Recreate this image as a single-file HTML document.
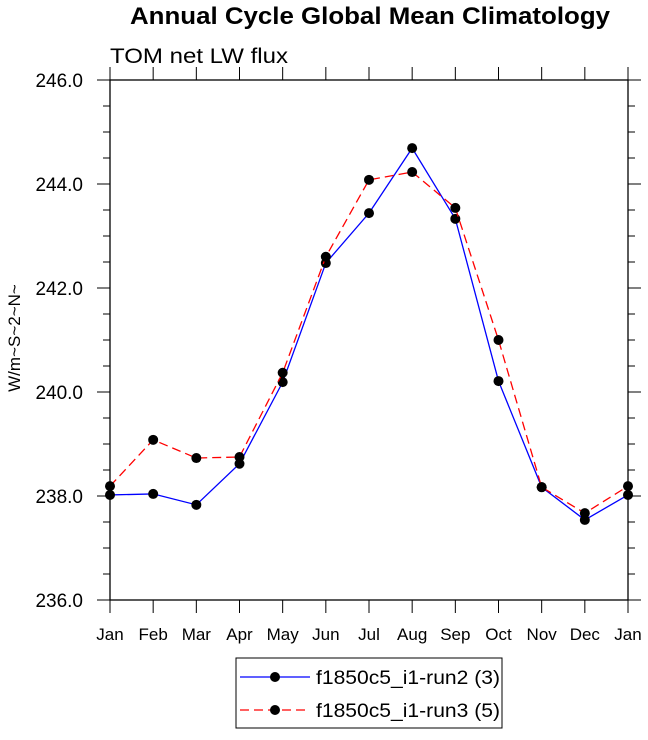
<!DOCTYPE html>
<html><head><meta charset="utf-8"><style>
body{margin:0;background:#fff;}
svg text{font-family:"Liberation Sans",Helvetica,sans-serif;}
</style></head><body>
<svg id="chart" width="648" height="735" xmlns="http://www.w3.org/2000/svg">
<text x="370" y="24" text-anchor="middle" font-size="24" font-weight="bold" textLength="480" lengthAdjust="spacingAndGlyphs">Annual Cycle Global Mean Climatology</text>
<text x="110" y="63" font-size="21" textLength="178" lengthAdjust="spacingAndGlyphs">TOM net LW flux</text>
<text transform="translate(20,338) rotate(-90)" text-anchor="middle" font-size="17">W/m~S~2~N~</text>
<g id="axes"></g>
<g id="series"></g>
<g>
<rect x="236" y="658" width="266" height="70" fill="#fff" stroke="#000"/>
<g>
<line x1="240" y1="677" x2="310" y2="677" stroke="#0000ff" stroke-width="1.3"/>
<circle cx="275" cy="677" r="5" fill="#000"/>
<text x="316" y="684" font-size="19" textLength="184" lengthAdjust="spacingAndGlyphs">f1850c5_i1-run2 (3)</text></g>
<g>
<line x1="240" y1="710" x2="310" y2="710" stroke="#ff0000" stroke-width="1.3" stroke-dasharray="9,5"/>
<circle cx="275" cy="710" r="5" fill="#000"/>
<text x="316" y="717" font-size="19" textLength="184" lengthAdjust="spacingAndGlyphs">f1850c5_i1-run3 (5)</text></g>
</g>
</svg>
<script>
const months = ["Jan","Feb","Mar","Apr","May","Jun","Jul","Aug","Sep","Oct","Nov","Dec","Jan"];
const run2 = [238.02,238.04,237.83,238.62,240.19,242.48,243.44,244.69,243.33,240.21,238.17,237.54,238.02];
const run3 = [238.19,239.08,238.73,238.75,240.37,242.6,244.08,244.23,243.54,241.0,238.17,237.67,238.19];
const yTicks = [236,238,240,242,244,246];
const NS="http://www.w3.org/2000/svg";
const L=110,R=628,T=80,B=600,ymin=236,ymax=246;
const xs=i=>L+(R-L)*i/(months.length-1);
const ys=v=>B-(v-ymin)/(ymax-ymin)*(B-T);
function mk(tag,attrs,parent){const e=document.createElementNS(NS,tag);for(const k in attrs)e.setAttribute(k,attrs[k]);parent.appendChild(e);return e;}
const ax=document.getElementById('axes');
const frame=mk('rect',{x:L,y:T,width:R-L,height:B-T,fill:'none',stroke:'#000','stroke-width':1.3},ax);


for(let v=ymin;v<=ymax+1e-9;v+=0.5){
  const y=ys(v);const major=Math.abs(v-Math.round(v/2)*2)<1e-9;const len=major?13:7;
  const t1=mk('line',{x1:L-len,x2:L,y1:y,y2:y,stroke:'#000'},ax);
  
  
  const t2=mk('line',{x1:R,x2:R+len,y1:y,y2:y,stroke:'#000'},ax);
  
  
}
yTicks.forEach(v=>{
  const t=mk('text',{x:L-27,y:ys(v)+7,'text-anchor':'end','font-size':19},ax);t.textContent=v.toFixed(1);
  
  
});
months.forEach((m,i)=>{
  const x=xs(i);
  const a=mk('line',{x1:x,x2:x,y1:B,y2:B+13,stroke:'#000'},ax);
  
  
  const b=mk('line',{x1:x,x2:x,y1:T-13,y2:T,stroke:'#000'},ax);
  
  
  const t=mk('text',{x:x,y:B+40,'text-anchor':'middle','font-size':17},ax);t.textContent=m;
  
  
});
const sg=document.getElementById('series');
function draw(vals,color,dash,name){
  const pts=vals.map((v,i)=>xs(i)+','+ys(v)).join(' ');
  const p=mk('polyline',{points:pts,fill:'none',stroke:color,'stroke-width':1.3,'stroke-dasharray':dash},sg);
  
  
  vals.forEach((v,i)=>{
    const c=mk('circle',{cx:xs(i),cy:ys(v),r:5,fill:'#000'},sg);
    
    
  });
}
draw(run2,'#0000ff','none','run2');
draw(run3,'#ff0000','9,5','run3');
</script>
</body></html>
